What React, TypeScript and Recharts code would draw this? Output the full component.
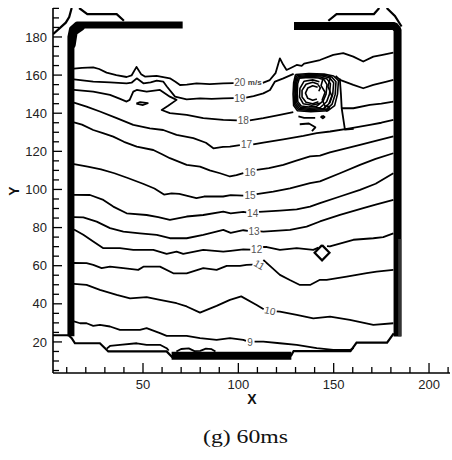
import React from 'react';
import { ComposedChart, Line, Scatter, XAxis, YAxis } from 'recharts';

type P = [number, number];

// ---- axes ----
const xDomain: [number, number] = [2.8, 211];
const yDomain: [number, number] = [3.7, 195.2];
const xTicks = [10, 20, 30, 40, 50, 60, 70, 80, 90, 100, 110, 120, 130, 140, 150, 160, 170, 180, 190, 200, 210];
const xLabelTicks = [50, 100, 150, 200];
const yTicks = [5, 10, 15, 20, 25, 30, 35, 40, 45, 50, 55, 60, 65, 70, 75, 80, 85, 90, 95, 100, 105, 110, 115, 120, 125, 130, 135, 140, 145, 150, 155, 160, 165, 170, 175, 180, 185, 190, 195];
const yLabelTicks = [20, 40, 60, 80, 100, 120, 140, 160, 180];

// ---- walls (thick) ----
const leftWall: P[] = [[12.2, 23], [12.2, 180], [13, 184], [15.5, 186.3], [70.8, 186.3]];
const leftCorner: P[] = [[12.9, 176], [13.9, 182.5], [17.5, 185]];
const rightWall: P[] = [[129.2, 185.8], [181.8, 185.8], [183.5, 183.8], [183.5, 22.8]];
const rightWallLow: P[] = [[184.6, 23], [184.6, 74]];
const bottomWall: P[] = [[65, 12.75], [127.8, 12.75]];

// ---- domain boundary (thin) ----
const bndBottomL: P[] = [[2.8, 23.5], [11, 23.5], [12.6, 22], [14.3, 19.3], [27.4, 19.3], [31.8, 15], [62.4, 15], [65.5, 11.8]];
const bndBottomR: P[] = [[127.5, 12.5], [129, 15.2], [158.8, 15.2], [162, 19.6], [178, 19.6], [181.5, 24.5]];
const bndTopL1: P[] = [[2.8, 181.5], [9.5, 187.5], [11.3, 190.5], [12.6, 195.2]];
const bndTopL2: P[] = [[16.5, 195.2], [20.8, 192], [36.2, 192], [40, 188.5]];
const bndTopR1: P[] = [[147.2, 188.5], [151.5, 192], [171.1, 192], [173.9, 195.2]];
const bndTopR2: P[] = [[177.8, 195.2], [182.1, 191], [185.6, 185.5]];

// ---- contour lines (m/s) ----
const c8: P[] = [[31, 16.5], [32.7, 17.9], [37.9, 18.5], [46.7, 19.3], [51.9, 18.5], [58.9, 18.5], [62.4, 16.7], [63.5, 15.5]];
const c8bumps: P[] = [[67.5, 15], [70, 16.3], [74, 16.6], [77, 15.2], [80, 15.3], [83, 16.5], [86, 16.2], [88, 15]];
const c9a: P[] = [[13.8, 30.8], [17, 29.8], [20.4, 29.8], [23.9, 28.4], [27.4, 29], [32.7, 28.1], [37.9, 26.3], [48.4, 26.3], [51.9, 27.2], [58.9, 24.6], [62.4, 23.2], [72.9, 23.2], [79.9, 22], [88.6, 21.1], [95.6, 22], [102.6, 21.1], [104, 20.6]];
const c9b: P[] = [[108.5, 20.2], [113.1, 20.2], [121.8, 19.3], [130.6, 18.5], [141.1, 16.7], [149.8, 15.8], [158.5, 15.8], [160.5, 16.8]];
const c10a: P[] = [[13.8, 50.5], [20.4, 49.9], [27.4, 47.3], [36.2, 44.7], [43.2, 42.9], [51.9, 43.5], [58.9, 42.1], [67.6, 40.3], [72.9, 38.6], [79.9, 35.4], [88.6, 38.9], [95.6, 42.1], [101.5, 43.9], [109.6, 39.4], [113.3, 37.2]];
const c10b: P[] = [[120, 36], [121.8, 35.9], [130.6, 34.2], [139.3, 32.4], [148.1, 33.3], [158.5, 31.6], [170.8, 29], [181.3, 29.8]];
const c11a: P[] = [[13.8, 61.4], [20.4, 61.3], [23.9, 60.4], [28.3, 58.7], [32.7, 59.5], [39.7, 58.7], [47.5, 57.8], [50.2, 59.5], [58.9, 59.5], [65.9, 56], [72.9, 56], [81.6, 58.7], [88.6, 57.8], [93.9, 59.9], [100.9, 59.9], [104.3, 60.4], [107.5, 60.6]];
const c11b: P[] = [[113.1, 63], [117, 59.5], [121.8, 55.2], [127, 52.5], [132.3, 49.9], [137.6, 49.9], [142.8, 52.6], [146.3, 52.6], [156.8, 54.3], [167.3, 56.1], [172.5, 56.9], [181.3, 57.8]];
const c12a: P[] = [[13.8, 79], [18.7, 76.2], [23.9, 72.7], [29.2, 69.2], [37.9, 69.2], [44.9, 68.3], [55.4, 68.3], [62.4, 66.2], [67.6, 67.4], [71.1, 66.2], [81.6, 68.3], [92.1, 67.4], [96, 67.8], [102.6, 68.6], [106.3, 68.4]];
const c12b: P[] = [[112.8, 69.8], [115, 69.8], [121.8, 68.3], [130.6, 69.2], [139.3, 68.3], [142, 69.5]];
const c12c: P[] = [[146.5, 70.3], [148, 70.1], [160.3, 73.6], [170.8, 74.4], [176, 75], [181.3, 77]];
const c13a: P[] = [[13.8, 85.5], [18.7, 85.4], [25.7, 83.1], [32.7, 79.7], [39.7, 77.9], [48.4, 77], [57.2, 76.2], [64.1, 74.4], [72.9, 74.4], [81.6, 76.2], [92.1, 78.8], [96, 77.2], [102.6, 78.6], [105, 78.3]];
const c13b: P[] = [[111.5, 78], [113.1, 77.9], [127.1, 78.8], [135.8, 80.5], [142.8, 83.2], [153.3, 86.7], [165.5, 90.2], [172, 92], [181.3, 94.5]];
const c14a: P[] = [[13.8, 97.2], [22.2, 97.1], [29.2, 94.5], [34.4, 91], [41.4, 87.5], [51.9, 86.6], [58, 85.5], [64.1, 84], [72.9, 85.8], [81.6, 86.6], [92.1, 88.4], [96, 87.5], [102.6, 88.2], [104.2, 88]];
const c14b: P[] = [[110.8, 88.2], [113.1, 88.4], [121.8, 88.9], [130.6, 89.6], [137.6, 91], [142.8, 92.8], [153.3, 96.3], [163.8, 99.8], [172, 103], [181.3, 108.5]];
const c15a: P[] = [[13.8, 113.3], [21, 112], [28, 110.5], [35, 108.5], [42, 106], [50, 103], [56, 100.5], [61, 97.3], [65, 97.9], [69, 97.7], [78, 95.4], [82, 96.3], [92, 96.3], [96, 97], [102.6, 96.8]];
const c15b: P[] = [[109.6, 97.6], [118.3, 98.9], [127.1, 100.6], [137.6, 103.3], [142.8, 104.2], [153.3, 108.5], [163.8, 112.9], [172, 116], [181.3, 119]];
const c16a: P[] = [[13.8, 135.2], [18, 134], [23.9, 131.2], [29, 129.5], [34.4, 127.7], [40, 125], [46.7, 122.5], [55.4, 120.7], [60, 118.5], [64.1, 116.4], [72.9, 112.9], [79.9, 112], [85, 110], [90.4, 108.5], [95.6, 106.8], [99, 107.5], [102.6, 108.6]];
const c16b: P[] = [[109.6, 110.3], [116, 111.2], [123.6, 112.9], [130, 115], [137.6, 117.3], [142.8, 117.8], [148, 119.5], [153.3, 120.8], [163.8, 123.4], [172, 125.5], [181.3, 127.8]];
const c17a: P[] = [[13.8, 145.5], [20.4, 143.5], [27.4, 140.9], [36.2, 137.4], [44.9, 133.9], [53.6, 132.1], [60.6, 131.2], [67.6, 128.6], [76.4, 126.9], [83, 124.5], [86.9, 121.6], [92, 122.3], [95.6, 122.5], [100.8, 123.3]];
const c17b: P[] = [[107.8, 123.6], [113.1, 124.6], [123.6, 126.3], [134.1, 128.1], [141.1, 129.5], [148.1, 130.4], [158.5, 132.1], [169, 133.9], [175, 135], [181.3, 136.5]];
const c18a: P[] = [[13.8, 152.2], [23.9, 151.3], [32.7, 149.6], [38, 147.5], [41.4, 146.1], [43, 147], [44.9, 151.3], [46.7, 152.2], [51.9, 151.3], [58.9, 152.2], [64.1, 148.7], [67.6, 147], [63, 143.8], [59.8, 141.7], [64.1, 140], [72.9, 139.1], [81.6, 137.4], [92.1, 136.5], [99.2, 136.2]];
const c18b: P[] = [[106, 136.2], [113.1, 137.4], [121.8, 139.1], [128.8, 140.6]];
const c18c: P[] = [[154.2, 142.6], [160.3, 142.6], [169, 144.4], [175, 145], [181.3, 146.1]];
const c19a: P[] = [[13.8, 157.8], [23.9, 156.6], [32.7, 156.2], [41.4, 155.7], [44, 156], [46.7, 158.3], [50.2, 155.7], [54, 156.2], [57.2, 157.1], [60.6, 156.6], [62.5, 154], [66.8, 148.7], [72.9, 147.3], [79.9, 147.8], [86, 147.5], [92.1, 147.8], [97.6, 147.9]];
const c19b: P[] = [[104, 148.2], [108, 149], [113.1, 150.4], [116.6, 152.2], [119.2, 156.6], [123.6, 158.3], [129, 160.6]];
const c19c: P[] = [[151, 159.5], [153.3, 157.5], [160.3, 154.9], [165.5, 153.1], [170.8, 154.9], [177.8, 156.6], [181.3, 157.5]];
const c20a: P[] = [[13.8, 163.4], [18, 163.8], [23.9, 164.1], [27, 163.2], [30.9, 161.3], [36, 160], [41.4, 159], [44, 159.8], [46.6, 164.3], [49, 160.5], [51, 159.2], [57.1, 159.6], [64.1, 158.3], [67, 156.5], [69.4, 154.8], [73, 155], [78.1, 155.7], [85, 155.3], [92.1, 155.7], [97.5, 155.8]];
const c20b: P[] = [[112.8, 155.9], [116.5, 157.4], [119.5, 161], [121.8, 168.8], [123.5, 165.5], [125.3, 162.7], [128, 164], [130.6, 165.3], [133.2, 164.8], [134.5, 166], [142.8, 167.9], [149.8, 170.6], [155, 171.5], [160.3, 169.7], [165.5, 167.1], [170.8, 169.7], [175, 170.5], [181.3, 171.8]];

// ---- recirculation (vortex) region ----
const vortexA: P[] = [[130, 160.3], [137, 160.8], [145, 160.5], [150, 159.5], [152.5, 157], [152, 150], [150.5, 144], [147, 141.3], [138, 140.8], [131, 141.3], [129, 144], [128.7, 150], [129, 156], [130, 160.3]];
const vortexA2: P[] = [[130.5, 159.8], [137, 160.3], [144.5, 160], [149, 159], [151.2, 156.5], [150.8, 150], [149.2, 144.8], [146, 141.9], [138, 141.4], [131.5, 141.9], [129.5, 144.5], [129.2, 150], [129.5, 156], [130.5, 159.8]];
const vortexB: P[] = [[131, 159.3], [137, 159.8], [144, 159.5], [148, 158.5], [150, 156], [149.5, 150], [148, 145.5], [145, 142.5], [138, 142], [132, 142.5], [130, 145], [129.8, 150], [130, 156], [131, 159.3]];
const vortexB2: P[] = [[131.5, 158.9], [137, 159.3], [143, 159], [146.5, 158], [148.3, 155.5], [147.8, 150], [146.3, 146], [143, 143], [137.5, 142.6], [132.5, 143.1], [130.6, 145.5], [130.3, 150], [130.5, 155.8], [131.5, 158.9]];
const vortexC: P[] = [[132, 158.4], [137, 158.8], [142, 158.5], [145, 157.5], [146.5, 155], [146, 150], [144.5, 146.5], [141, 143.6], [137, 143.3], [133, 143.8], [131.2, 146], [130.9, 150], [131.1, 155.5], [132, 158.4]];
const vortexC2: P[] = [[142.5, 156.5], [139, 157.5], [134.5, 156.8], [132.3, 153], [132.1, 148.5], [134, 145], [138.5, 144.2], [142.8, 145.2]];
const vortexD: P[] = [[142, 155.2], [139, 156.3], [135.5, 155.2], [133.4, 152], [133.4, 148.5], [135.5, 145.8], [139, 145], [142, 146]];
const vortexE: P[] = [[141.6, 153.6], [139, 154.4], [136.4, 153.2], [135.2, 150.5], [136.4, 147.8], [139, 146.8], [141.2, 147.5]];
const vortexW1: P[] = [[144.5, 158.5], [143.4, 154.5], [145.5, 151], [144, 147], [145.8, 143]];
const vortexW2: P[] = [[148.3, 158.8], [147, 154], [149, 149], [147.5, 145]];
const vortexW3: P[] = [[141.8, 155], [143, 153.3], [142.2, 151.5]];
const vortexDiamond: P[] = [[146.4, 144.2], [147.8, 142.7], [146.4, 141.2], [145, 142.7], [146.4, 144.2]];
const vortexDot: P[] = [[144.3, 138.7], [145.2, 138], [144.3, 137.3], [143.4, 138], [144.3, 138.7]];
const vortexDrop: P[] = [[153.2, 158.2], [153.8, 150], [154.2, 142.6], [155.2, 136], [155.9, 131.4], [160.5, 131.8]];
const vortexBelow1: P[] = [[131.5, 138.3], [134.5, 137.6], [140.3, 137.6]];
const vortexBelow2: P[] = [[132.2, 134.2], [137, 134.6], [140.4, 132.6], [138.6, 130.6]];
const island: P[] = [[46.5, 145], [48.5, 145.8], [52.5, 145.3], [50, 144.3], [46.5, 145]];

// ---- reference marker (probe) ----
const probe: P[] = [[143.9, 70.8], [147.8, 66.8], [143.9, 62.8], [140, 66.8], [143.9, 70.8]];

// ---- contour labels ----
const labelXs = [106.1, 116.6, 111, 109.6, 108.2, 107.5, 106.1, 106.1, 104.3, 102.6, 100.8, 100.8];
const labelYs = [19.9, 36.3, 60.4, 68.3, 78.2, 87.5, 96.8, 108.8, 123.4, 136.1, 147.9, 155.9];
const labelTexts = ['9', '10', '11', '12', '13', '14', '15', '16', '17', '18', '19', '20'];
const labelRot = [0, 12, 30, 0, 0, 0, 0, 0, 0, 0, 0, 0];
const unitLabel = { x: 108.6, y: 156.2, t: 'm/s' };

const toXY = (pts: P[]) => pts.map(([x, y]) => ({ x, y }));

const contours: P[][] = [
  c8, c8bumps, c9a, c9b, c10a, c10b, c11a, c11b, c12a, c12b, c12c, c13a, c13b, c14a, c14b,
  c15a, c15b, c16a, c16b, c17a, c17b, c18a, c18b, c18c, c19a, c19b, c19c, c20a, c20b,
  vortexDrop, vortexBelow1, vortexBelow2, island, vortexDiamond, vortexDot,
];
const vortexLines: P[][] = [vortexA, vortexA2, vortexB, vortexB2, vortexC, vortexC2, vortexD, vortexE, vortexW1, vortexW2, vortexW3];
const boundaries: P[][] = [bndBottomL, bndBottomR, bndTopL1, bndTopL2, bndTopR1, bndTopR2];

const labelData = labelXs.map((x, i) => ({ x, y: labelYs[i], t: labelTexts[i], r: labelRot[i] }));

const FONT = '"Liberation Sans", Arial, sans-serif';

const YTick = (props: any) => {
  const { x, y, payload } = props;
  const v = payload.value;
  const major = yLabelTicks.includes(v);
  return (
    <g>
      <line x1={x} y1={y} x2={x + (major ? 9 : 6)} y2={y} stroke="#000" strokeWidth={1.3} />
      {major && (
        <text x={x - 6} y={y} dy="0.36em" textAnchor="end" fontSize={13} fontFamily={FONT} fill="#222">
          {v}
        </text>
      )}
    </g>
  );
};

const XTick = (props: any) => {
  const { x, y, payload } = props;
  const v = payload.value;
  const major = xLabelTicks.includes(v);
  return (
    <g>
      <line x1={x} y1={y} x2={x} y2={y - (major ? 10 : 6)} stroke="#000" strokeWidth={1.3} />
      {major && (
        <text x={x} y={y + 16} textAnchor="middle" fontSize={13} fontFamily={FONT} fill="#222">
          {v}
        </text>
      )}
    </g>
  );
};

const LabelShape = (props: any) => {
  const { cx, cy, payload } = props;
  if (cx == null || cy == null) return <g />;
  return (
    <text
      x={cx}
      y={cy}
      dy="0.35em"
      textAnchor="middle"
      fontSize={10}
      fontFamily={FONT}
      fill="#555"
      stroke="#fff"
      strokeWidth={2.5}
      paintOrder="stroke"
      transform={payload.r ? `rotate(${payload.r} ${cx} ${cy})` : undefined}
    >
      {payload.t}
    </text>
  );
};

const UnitShape = (props: any) => {
  const { cx, cy, payload } = props;
  if (cx == null || cy == null) return <g />;
  return (
    <text x={cx} y={cy} dy="0.35em" textAnchor="middle" fontSize={8} fontWeight="bold" fontFamily={FONT} fill="#444"
      stroke="#fff" strokeWidth={2} paintOrder="stroke">
      {payload.t}
    </text>
  );
};

export default function App() {
  return (
    <div style={{ position: 'absolute', left: 0, top: 0, width: 452, height: 460, background: '#fff' }}>
      <ComposedChart width={452} height={460} margin={{ top: 8, right: 2, bottom: 0, left: 0 }}>
        <XAxis
          type="number"
          dataKey="x"
          domain={xDomain}
          allowDataOverflow
          ticks={xTicks}
          interval={0}
          height={87}
          tickSize={0}
          tickMargin={0}
          tickLine={false}
          tick={<XTick />}
          axisLine={{ stroke: '#000', strokeWidth: 1.6 }}
        />
        <YAxis
          type="number"
          dataKey="y"
          domain={yDomain}
          allowDataOverflow
          ticks={yTicks}
          interval={0}
          width={53}
          tickSize={0}
          tickMargin={0}
          tickLine={false}
          tick={<YTick />}
          axisLine={{ stroke: '#000', strokeWidth: 1.6 }}
        />
        {boundaries.map((d, i) => (
          <Line key={'b' + i} data={toXY(d)} dataKey="y" type="linear" stroke="#000" strokeWidth={2.2}
            dot={false} activeDot={false} isAnimationActive={false} legendType="none" strokeLinejoin="miter" />
        ))}
        {contours.map((d, i) => (
          <Line key={'c' + i} data={toXY(d)} dataKey="y" type="linear" stroke="#000" strokeWidth={1.8}
            dot={false} activeDot={false} isAnimationActive={false} legendType="none" strokeLinejoin="round" />
        ))}
        {vortexLines.map((d, i) => (
          <Line key={'v' + i} data={toXY(d)} dataKey="y" type="linear" stroke="#000" strokeWidth={1.6}
            dot={false} activeDot={false} isAnimationActive={false} legendType="none" strokeLinejoin="round" />
        ))}
        <Line data={toXY(probe)} dataKey="y" type="linear" stroke="#000" strokeWidth={2.2}
          dot={false} activeDot={false} isAnimationActive={false} legendType="none" />
        <Line data={toXY(leftWall)} dataKey="y" type="linear" stroke="#000" strokeWidth={7}
          dot={false} activeDot={false} isAnimationActive={false} legendType="none" strokeLinejoin="round" />
        <Line data={toXY(leftCorner)} dataKey="y" type="linear" stroke="#000" strokeWidth={7}
          dot={false} activeDot={false} isAnimationActive={false} legendType="none" strokeLinecap="round" />
        <Line data={toXY(rightWall)} dataKey="y" type="linear" stroke="#000" strokeWidth={8}
          dot={false} activeDot={false} isAnimationActive={false} legendType="none" strokeLinejoin="bevel" />
        <Line data={toXY(rightWallLow)} dataKey="y" type="linear" stroke="#333" strokeWidth={3}
          dot={false} activeDot={false} isAnimationActive={false} legendType="none" />
        <Line data={toXY(bottomWall)} dataKey="y" type="linear" stroke="#000" strokeWidth={8}
          dot={false} activeDot={false} isAnimationActive={false} legendType="none" />
        <Scatter data={labelData} dataKey="y" shape={(p: any) => <LabelShape {...p} />} isAnimationActive={false} legendType="none" />
        <Scatter data={[unitLabel]} dataKey="y" shape={(p: any) => <UnitShape {...p} />} isAnimationActive={false} legendType="none" />
      </ComposedChart>
      <div style={{ position: 'absolute', left: 252, top: 399, transform: 'translate(-50%,-50%)', font: `bold 14px ${FONT}`, color: '#111' }}>X</div>
      <div style={{ position: 'absolute', left: 14, top: 191, transform: 'translate(-50%,-50%) rotate(-90deg)', font: `bold 14px ${FONT}`, color: '#111' }}>Y</div>
      <svg width={452} height={36} style={{ position: 'absolute', left: 0, top: 424 }}>
        <text x={245.5} y={19} textAnchor="middle" fontSize={19} fontFamily='"Liberation Serif", "Times New Roman", serif'
          textLength={85} lengthAdjust="spacingAndGlyphs" fill="#111">(g) 60ms</text>
      </svg>
    </div>
  );
}
